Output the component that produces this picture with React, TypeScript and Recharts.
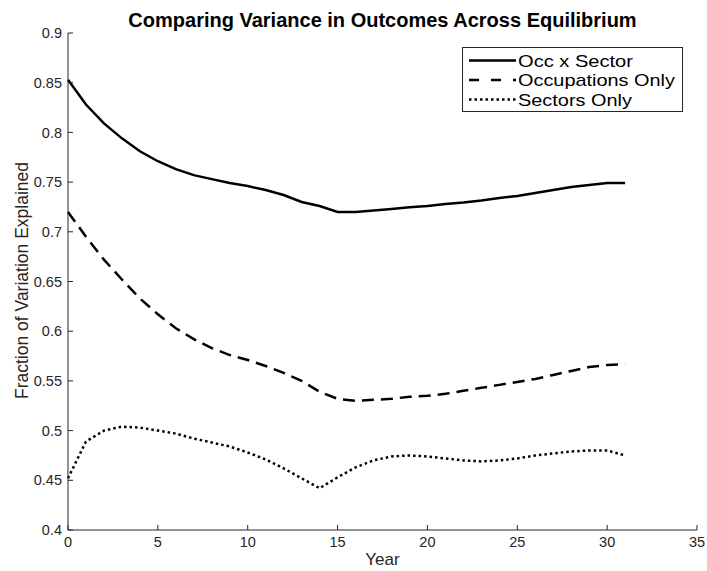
import { LineChart, Line, XAxis, YAxis, Legend } from 'recharts';

const years = [
  0, 1, 2, 3, 4, 5, 6, 7, 8, 9, 10, 11, 12, 13, 14, 15,
  16, 17, 18, 19, 20, 21, 22, 23, 24, 25, 26, 27, 28, 29, 30, 31,
];

const occBySector = [
  0.853, 0.828, 0.809, 0.794, 0.781, 0.771, 0.763, 0.757, 0.753, 0.749, 0.746,
  0.742, 0.737, 0.73, 0.726, 0.72, 0.72, 0.7215, 0.723, 0.7248, 0.726, 0.728,
  0.7295, 0.7315, 0.734, 0.736, 0.739, 0.742, 0.745, 0.747, 0.749, 0.749,
];

const occupationsOnly = [
  0.72, 0.695, 0.672, 0.652, 0.633, 0.617, 0.603, 0.592, 0.583, 0.576, 0.571,
  0.565, 0.558, 0.55, 0.539, 0.532, 0.53, 0.531, 0.532, 0.534, 0.535, 0.537,
  0.54, 0.543, 0.546, 0.549, 0.552, 0.556, 0.56, 0.564, 0.566, 0.567,
];

const sectorsOnly = [
  0.452, 0.489, 0.5, 0.504, 0.503, 0.5, 0.497, 0.492, 0.488, 0.484, 0.478,
  0.471, 0.462, 0.452, 0.442, 0.453, 0.463, 0.47, 0.474, 0.475, 0.474, 0.472,
  0.47, 0.469, 0.47, 0.472, 0.475, 0.477, 0.479, 0.48, 0.48, 0.475,
];

const xTicks = [0, 5, 10, 15, 20, 25, 30, 35];
const yTicks = [0.4, 0.45, 0.5, 0.55, 0.6, 0.65, 0.7, 0.75, 0.8, 0.85, 0.9];

const data = years.map((year, i) => ({
  year,
  occBySector: occBySector[i],
  occupationsOnly: occupationsOnly[i],
  sectorsOnly: sectorsOnly[i],
}));

const FONT = '"Liberation Sans", Arial, Helvetica, sans-serif';
const AXIS = '#262626';

const DASHED = '12 7';
const DOTTED = '2.5 3';

const legendRows = [
  { label: 'Occ x Sector', dash: undefined, textWidth: 115 },
  { label: 'Occupations Only', dash: '10 12', textWidth: 157 },
  { label: 'Sectors Only', dash: DOTTED, textWidth: 114 },
];

// boxed legend, top right inside the axes
function LegendBox() {
  return (
    <svg width={221} height={65} style={{ display: 'block' }}>
      <rect x={0.5} y={0.5} width={220} height={64} fill="#fff" stroke={AXIS} strokeWidth={1} />
      {legendRows.map((row, i) => {
        const cy = 13.5 + i * 19.5;
        return (
          <g key={row.label}>
            <line x1={7} x2={54} y1={cy} y2={cy} stroke="#000" strokeWidth={2.5} strokeDasharray={row.dash} />
            <text
              x={56}
              y={cy + 6}
              fontFamily={FONT}
              fontSize={17}
              fill="#000"
              textLength={row.textWidth}
              lengthAdjust="spacingAndGlyphs"
            >
              {row.label}
            </text>
          </g>
        );
      })}
    </svg>
  );
}

function YLabel(props: any) {
  const vb = props.viewBox || { y: 33, height: 497 };
  const cy = vb.y + vb.height / 2 - 1;
  return (
    <text
      x={28}
      y={cy}
      transform={`rotate(-90, 28, ${cy})`}
      textAnchor="middle"
      fontFamily={FONT}
      fontSize={17.5}
      fill={AXIS}
    >
      Fraction of Variation Explained
    </text>
  );
}

export default function App() {
  return (
    <div style={{ position: 'absolute', left: 0, top: 0, width: 707, height: 571, background: '#fff' }}>
      <div
        style={{
          position: 'absolute',
          left: 68,
          width: 629,
          top: 8,
          textAlign: 'center',
          fontFamily: FONT,
          fontWeight: 'bold',
          fontSize: 20,
          color: '#000',
          lineHeight: '24px',
        }}
      >
        Comparing Variance in Outcomes Across Equilibrium
      </div>
      <LineChart
        width={707}
        height={571}
        data={data}
        margin={{ top: 33, right: 10, bottom: 0, left: 0 }}
        style={{ fontFamily: FONT }}
      >
        <XAxis
          dataKey="year"
          type="number"
          domain={[0, 35]}
          ticks={xTicks}
          height={41}
          stroke={AXIS}
          tickSize={-5}
          tickMargin={12}
          tick={{ fill: AXIS, fontSize: 14.5 }}
          label={{ value: 'Year', position: 'insideBottom', offset: 6, fill: AXIS, fontSize: 17 }}
        />
        <YAxis
          type="number"
          domain={[0.4, 0.9]}
          ticks={yTicks}
          width={68}
          stroke={AXIS}
          tickSize={-5}
          tickMargin={11}
          tick={{ fill: AXIS, fontSize: 14.5 }}
          tickFormatter={(v: number) => String(+v.toFixed(2))}
          label={<YLabel />}
        />
        <Legend
          layout="horizontal"
          verticalAlign="middle"
          align="center"
          content={() => <LegendBox />}
          wrapperStyle={{ position: 'absolute', left: 462, top: 47, width: 221, height: 65 }}
        />
        <Line
          dataKey="occBySector"
          name="Occ x Sector"
          type="linear"
          stroke="#000"
          strokeWidth={2.5}
          dot={false}
          isAnimationActive={false}
        />
        <Line
          dataKey="occupationsOnly"
          name="Occupations Only"
          type="linear"
          stroke="#000"
          strokeWidth={2.5}
          strokeDasharray={DASHED}
          dot={false}
          isAnimationActive={false}
        />
        <Line
          dataKey="sectorsOnly"
          name="Sectors Only"
          type="linear"
          stroke="#000"
          strokeWidth={2.5}
          strokeDasharray={DOTTED}
          dot={false}
          isAnimationActive={false}
        />
      </LineChart>
    </div>
  );
}
